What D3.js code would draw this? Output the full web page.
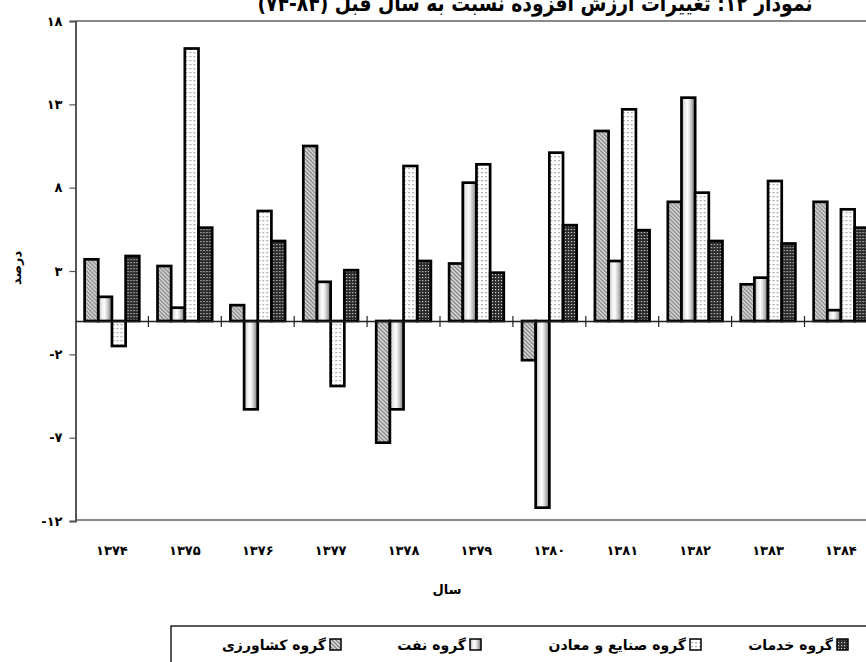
<!DOCTYPE html>
<html><head><meta charset="utf-8">
<script src="https://cdn.jsdelivr.net/npm/d3@7"></script>
<style>
html,body{margin:0;padding:0;background:#fff;overflow:hidden}
svg{display:block}
text{font-family:"DejaVu Sans",sans-serif;font-weight:bold;fill:#000}
</style></head><body>
<svg id="c" width="866" height="662"></svg>
<script>
const years = ["۱۳۷۴","۱۳۷۵","۱۳۷۶","۱۳۷۷","۱۳۷۸","۱۳۷۹","۱۳۸۰","۱۳۸۱","۱۳۸۲","۱۳۸۳","۱۳۸۴"];
const seriesNames = ["گروه کشاورزی","گروه نفت","گروه صنایع و معادن","گروه خدمات"];
const agriculture = [3.7, 3.3, 0.95, 10.5, -7.3, 3.45, -2.35, 11.4, 7.15, 2.2, 7.15];
const oil         = [1.45, 0.8, -5.3, 2.35, -5.3, 8.3, -11.2, 3.6, 13.4, 2.6, 0.65];
const industry    = [-1.5, 16.35, 6.6, -3.9, 9.3, 9.4, 10.1, 12.7, 7.7, 8.4, 6.7];
const services    = [3.9, 5.6, 4.8, 3.05, 3.6, 2.9, 5.75, 5.45, 4.8, 4.65, 5.6];
const yTicks = [-12, -7, -2, 3, 8, 13, 18];
const yTickLabels = ["-۱۲","-۷","-۲","۳","۸","۱۳","۱۸"];
const titleText = "نمودار ۱۲: تغییرات ارزش افزوده نسبت به سال قبل (۸۴-۷۴)";
const yTitle = "درصد";
const xTitle = "سال";

const allSeries = [agriculture, oil, industry, services];
const svg = d3.select("#c");
const defs = svg.append("defs");

const p1 = defs.append("pattern").attr("id","pat0").attr("patternUnits","userSpaceOnUse").attr("width",4).attr("height",4);
p1.append("rect").attr("width",4).attr("height",4).attr("fill","#d8d8d8");
p1.append("path").attr("d","M-1,-1 L5,5 M-1,3 L1,5 M3,-1 L5,1").attr("stroke","#7a7a7a").attr("stroke-width",1.2);

const g2 = defs.append("linearGradient").attr("id","pat1").attr("x1","0").attr("x2","1").attr("y1","0").attr("y2","0");
[[0,"#9a9a9a"],[0.2,"#e6e6e6"],[0.45,"#ffffff"],[0.7,"#c8c8c8"],[1,"#6e6e6e"]].forEach(([o,c])=>g2.append("stop").attr("offset",o).attr("stop-color",c));

const p3 = defs.append("pattern").attr("id","pat2").attr("patternUnits","userSpaceOnUse").attr("width",4).attr("height",4);
p3.append("rect").attr("width",4).attr("height",4).attr("fill","#fff");
p3.append("rect").attr("x",1).attr("y",0).attr("width",2).attr("height",1.3).attr("fill","#b0b0b0");

const p4 = defs.append("pattern").attr("id","pat3").attr("patternUnits","userSpaceOnUse").attr("width",3).attr("height",3);
p4.append("rect").attr("width",3).attr("height",3).attr("fill","#2a2a2a");
p4.append("rect").attr("x",1).attr("y",1).attr("width",1.2).attr("height",1.2).attr("fill","#d0d0d0");

const fills = ["url(#pat0)","url(#pat1)","url(#pat2)","url(#pat3)"];

const pLeft = 75.5, pRight = 877.4, pTop = 21, pBottom = 521;
const x0 = d3.scaleBand().domain(years).range([pLeft, pRight]).padding(0);
const pad = x0.bandwidth()*0.125;
const x1 = d3.scaleBand().domain(d3.range(4)).range([pad, x0.bandwidth()-pad]).padding(0);
const y = d3.scaleLinear().domain([-12, 18]).range([pBottom, pTop]);

svg.append("line").attr("x1",pLeft).attr("x2",pRight+5).attr("y1",pTop).attr("y2",pTop).attr("stroke","#8a8a8a").attr("stroke-width",2);
svg.append("line").attr("x1",pLeft).attr("x2",pRight+5).attr("y1",pBottom-1).attr("y2",pBottom-1).attr("stroke","#8a8a8a").attr("stroke-width",2);

const groups = svg.append("g").selectAll("g").data(years).join("g")
  .attr("transform", d => `translate(${x0(d)},0)`);
groups.selectAll("rect").data((d,i) => allSeries.map((s,k)=>({k, v:s[i]}))).join("rect")
  .attr("x", d => x1(d.k))
  .attr("width", x1.bandwidth())
  .attr("y", d => y(Math.max(0,d.v)))
  .attr("height", d => Math.abs(y(d.v)-y(0)))
  .attr("fill", d => fills[d.k])
  .attr("stroke","#000").attr("stroke-width",2.7);

const yAxis = d3.axisLeft(y).tickValues(yTicks).tickFormat((d,i)=>yTickLabels[i]).tickSize(6).tickPadding(7);
const ya = svg.append("g").attr("transform",`translate(${pLeft},0)`).call(yAxis);
ya.select(".domain").attr("stroke","#555").attr("stroke-width",2);
ya.selectAll(".tick line").attr("stroke","#555").attr("stroke-width",1.2);
ya.selectAll("text").attr("font-size",13).attr("font-family","DejaVu Sans").attr("font-weight","bold").attr("fill","#000");

const xAxis = d3.axisBottom(x0).tickSize(0).tickFormat("");
const xa = svg.append("g").attr("transform",`translate(0,${y(0)})`).call(xAxis);
xa.select(".domain").attr("stroke","#222").attr("stroke-width",1.3);
const bounds = years.slice(1).map(d => x0(d));
svg.append("g").selectAll("line").data(bounds).join("line")
  .attr("x1",d=>d).attr("x2",d=>d).attr("y1",y(0)-5).attr("y2",y(0)+6)
  .attr("stroke","#222").attr("stroke-width",1.2);

svg.append("g").selectAll("text").data(years).join("text")
  .attr("x", d => x0(d)+x0.bandwidth()/2).attr("y", 555)
  .attr("text-anchor","middle").attr("font-size",13).text(d=>d);

svg.append("text").attr("transform","translate(21,268) rotate(-90)").attr("text-anchor","middle").attr("font-size",13).text(yTitle);
svg.append("text").attr("x",447).attr("y",594).attr("text-anchor","middle").attr("font-size",13).text(xTitle);

svg.append("text").attr("x",535).attr("y",11).attr("text-anchor","middle").attr("direction","rtl")
  .attr("font-size",22).attr("textLength",555).attr("lengthAdjust","spacingAndGlyphs").text(titleText);

svg.append("rect").attr("x",171).attr("y",626).attr("width",720).attr("height",60).attr("fill","none").attr("stroke","#000").attr("stroke-width",1.3);
const legX = [330, 470, 690, 837];
const leg = svg.append("g").selectAll("g").data(seriesNames).join("g")
  .attr("transform",(d,i)=>`translate(${legX[i]},650)`);
leg.append("rect").attr("x",0).attr("y",-11).attr("width",11).attr("height",11).attr("fill",(d,i)=>fills[i]).attr("stroke","#000").attr("stroke-width",1.5);
leg.append("text").attr("x",-4).attr("y",0).attr("text-anchor","end").attr("font-size",14).text(d=>d);
</script>
</body></html>
